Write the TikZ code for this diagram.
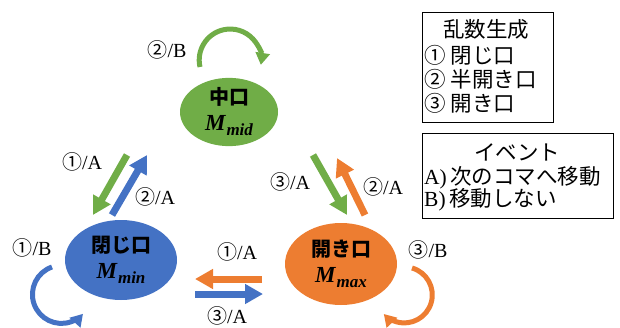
\documentclass[tikz,border=0pt]{standalone}
\usepackage{fontspec}
\setmainfont{Liberation Serif}
\newfontfamily\cjk{Noto Sans CJK JP}
\usetikzlibrary{arrows.meta,shapes.geometric}
\definecolor{ogreen}{HTML}{70AD47}
\definecolor{oblue}{HTML}{4472C4}
\definecolor{oorange}{HTML}{ED7D31}
\tikzset{
  state/.style={ellipse, inner sep=0pt, align=center, font=\fontsize{20}{24}\selectfont},
  lbl/.style={font=\fontsize{20}{22}\selectfont, inner sep=0pt},
  fat/.style={line width=7pt, -{Triangle[length=18pt,width=19pt]}},
  loopar/.style={line width=5pt, -{Triangle[length=12pt,width=14pt]}},
  legbox/.style={draw=black, line width=0.9pt},
  legtxt/.style={font=\fontsize{21.5}{23}\selectfont, inner sep=0pt, anchor=west},
  legtitle/.style={font=\fontsize{21.5}{23}\selectfont\cjk, inner sep=0pt},
}
\newcommand{\stlabel}[2]{{\cjk\bfseries #1}\\[2pt]{\fontsize{23}{24}\selectfont\bfseries\itshape M\kern1pt\raisebox{-5pt}{\fontsize{17}{17}\selectfont #2}}}
\begin{document}
\begin{tikzpicture}[x=1pt,y=1pt]
\useasboundingbox (0,0) rectangle (620,327);

% states
\node[state, fill=ogreen, minimum width=98pt, minimum height=62pt] (mid) at (229,215) {\stlabel{中口}{mid}};
\node[state, fill=oblue, minimum width=112pt, minimum height=80pt] (min) at (121,67) {\stlabel{閉じ口}{min}};
\node[state, fill=oorange, minimum width=112pt, minimum height=82pt] (max) at (341,63) {\stlabel{開き口}{max}};

% arrow end points
\coordinate (gl1) at (127,172); \coordinate (gl2) at (93,112);
\coordinate (bl1) at (112,112); \coordinate (bl2) at (147,172);
\coordinate (gr1) at (313,172); \coordinate (gr2) at (347,112);
\coordinate (or1) at (365,112); \coordinate (or2) at (337,169);
\coordinate (oh1) at (262,48);  \coordinate (oh2) at (195,48);
\coordinate (bh1) at (195,33);  \coordinate (bh2) at (263,33);
\coordinate (bls) at (52,60);
\coordinate (ols) at (412,59);
\coordinate (gls) at (200,260);

\draw[fat, ogreen] (gl1) -- (gl2);
\draw[fat, oblue] (bl1) -- (bl2);
\draw[fat, ogreen] (gr1) -- (gr2);
\draw[fat, oorange] (or1) -- (or2);
\draw[fat, oorange] (oh1) -- (oh2);
\draw[fat, oblue] (bh1) -- (bh2);

% self loops
\draw[loopar, oblue] (bls) arc[start angle=109, end angle=318, radius=29];
\draw[loopar, oorange] (ols) arc[start angle=74, end angle=-137, radius=28];
\draw[loopar, ogreen] (gls) arc[start angle=193, end angle=-9, radius=31];

% labels
\node[lbl] (l1) at (167,277) {{\cjk ②}/B};
\node[lbl] (l2) at (82,165) {{\cjk ①}/A};
\node[lbl] (l3) at (155,130) {{\cjk ②}/A};
\node[lbl] (l4) at (290,145) {{\cjk ③}/A};
\node[lbl] (l5) at (383,140) {{\cjk ②}/A};
\node[lbl] (l6) at (32,79) {{\cjk ①}/B};
\node[lbl] (l7) at (428,77) {{\cjk ③}/B};
\node[lbl] (l8) at (237,75) {{\cjk ①}/A};
\node[lbl] (l9) at (227,11) {{\cjk ③}/A};

% legend 1
\draw[legbox] (422,205) rectangle (553,315);
\node[legtitle] (r0) at (486,298) {乱数生成};
\node[legtxt] (r1) at (424,272) {{\cjk ①\ 閉じ口}};
\node[legtxt] (r2) at (424,248) {{\cjk ②\ 半開き口}};
\node[legtxt] (r3) at (424,224) {{\cjk ③\ 開き口}};

% legend 2
\draw[legbox] (422,109) rectangle (613,194);
\node[legtitle] (e0) at (517,175) {イベント};
\node[legtxt] (e1) at (424,149) {A)\,{\cjk 次のコマへ移動}};
\node[legtxt] (e2) at (424,127) {B)\,{\cjk 移動しない}};
\end{tikzpicture}
\end{document}
